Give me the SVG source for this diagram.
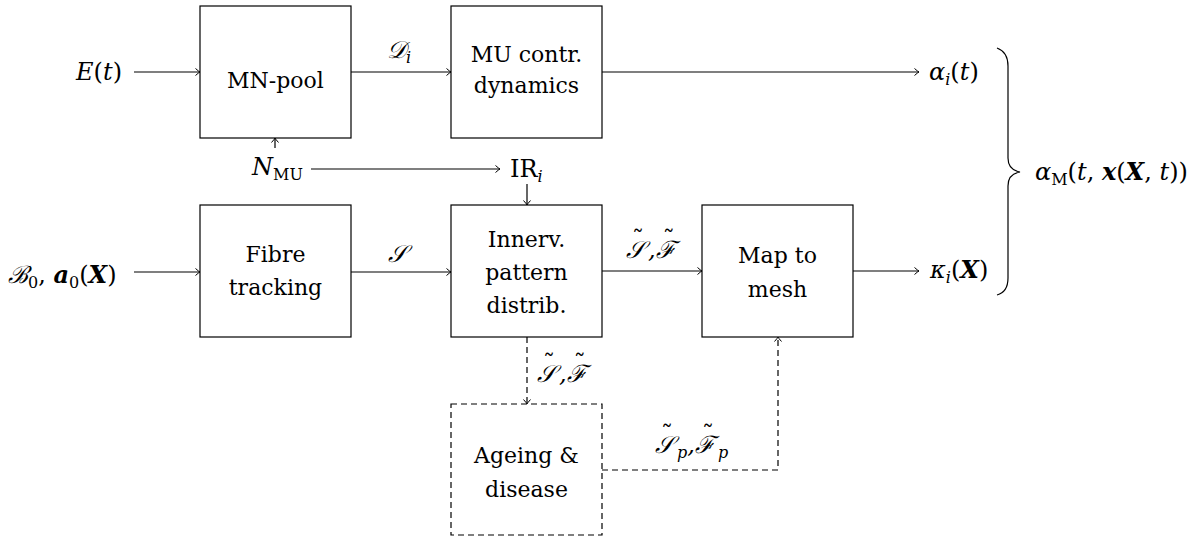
<svg xmlns="http://www.w3.org/2000/svg" width="1204" height="538" viewBox="0 0 1204 538">
<defs>
<marker id="ah" markerWidth="10" markerHeight="10" refX="8" refY="5" orient="auto" markerUnits="userSpaceOnUse">
<path d="M3.5 1.5 Q7 4.6 8 5 Q7 5.4 3.5 8.5" fill="none" stroke="#000" stroke-width="1"/>
</marker>
</defs>
<g id="connectors" fill="none" stroke="#000" stroke-width="1.2">
<line x1="134" y1="72" x2="200" y2="72" marker-end="url(#ah)"/>
<line x1="351" y1="72" x2="451" y2="72" marker-end="url(#ah)"/>
<line x1="602" y1="72" x2="919" y2="72" marker-end="url(#ah)"/>
<line x1="275" y1="148" x2="275" y2="138" marker-end="url(#ah)"/>
<line x1="311" y1="169" x2="500" y2="169" marker-end="url(#ah)"/>
<line x1="527" y1="184" x2="527" y2="205" marker-end="url(#ah)"/>
<line x1="134" y1="272" x2="200" y2="272" marker-end="url(#ah)"/>
<line x1="351" y1="272" x2="451" y2="272" marker-end="url(#ah)"/>
<line x1="602" y1="271" x2="702" y2="271" marker-end="url(#ah)"/>
<line x1="853" y1="271" x2="919" y2="271" marker-end="url(#ah)"/>
<line x1="527" y1="337" x2="527" y2="404" stroke-dasharray="6 4" marker-end="url(#ah)"/>
<polyline points="602,470 778,470 778,337" stroke-dasharray="6 4" marker-end="url(#ah)"/>
<path d="M997 48 Q1008 52 1008 66 L1008 158 Q1008 170 1020 172 Q1008 174 1008 186 L1008 278 Q1008 292 997 295"/>
</g>
<g id="labels" font-family="'DejaVu Serif', 'Liberation Serif', serif" font-size="24">
<text x="122" y="80" text-anchor="end"><tspan font-style="italic">E</tspan>(<tspan font-style="italic">t</tspan>)</text>
<text x="387" y="58"><tspan font-style="italic">𝒟</tspan><tspan font-style="italic" font-size="16" dy="5">i</tspan></text>
<text x="929" y="80"><tspan font-style="italic">α</tspan><tspan font-style="italic" font-size="16" dy="5">i</tspan><tspan dy="-5">(</tspan><tspan font-style="italic">t</tspan>)</text>
<text x="252" y="175"><tspan font-style="italic">N</tspan><tspan font-size="16" dy="5">MU</tspan></text>
<text x="510" y="177">IR<tspan font-style="italic" font-size="16" dy="5">i</tspan></text>
<text x="8" y="283"><tspan font-style="italic">ℬ</tspan><tspan font-size="16" dy="5">0</tspan><tspan dy="-5">, </tspan><tspan font-weight="bold" font-style="italic">a</tspan><tspan font-size="16" dy="5">0</tspan><tspan dy="-5">(</tspan><tspan font-weight="bold" font-style="italic">X</tspan>)</text>
<text x="388" y="262" font-style="italic">𝒮</text>
<text x="626" y="258" font-style="italic">𝒮<tspan font-style="normal" dx="-13" dy="-10">˜</tspan><tspan dx="4" dy="10">,ℱ</tspan><tspan font-style="normal" dx="-13" dy="-10">˜</tspan></text>
<text x="930" y="278"><tspan font-style="italic">κ</tspan><tspan font-style="italic" font-size="16" dy="5">i</tspan><tspan dy="-5">(</tspan><tspan font-weight="bold" font-style="italic">X</tspan>)</text>
<text x="537" y="382" font-style="italic">𝒮<tspan font-style="normal" dx="-13" dy="-10">˜</tspan><tspan dx="4" dy="10">,ℱ</tspan><tspan font-style="normal" dx="-13" dy="-10">˜</tspan></text>
<text x="655" y="453" font-style="italic">𝒮<tspan font-style="normal" dx="-13" dy="-10">˜</tspan><tspan font-size="16" dx="4" dy="15">p</tspan><tspan dy="-5">,ℱ</tspan><tspan font-style="normal" dx="-13" dy="-10">˜</tspan><tspan font-size="16" dx="4" dy="15">p</tspan></text>
<text x="1035" y="180"><tspan font-style="italic">α</tspan><tspan font-size="16" dy="5">M</tspan><tspan dy="-5">(</tspan><tspan font-style="italic">t</tspan>, <tspan font-weight="bold" font-style="italic">x</tspan>(<tspan font-weight="bold" font-style="italic">X</tspan>, <tspan font-style="italic">t</tspan>))</text>
</g>
<g id="mnpool" font-family="'DejaVu Serif', 'Liberation Serif', serif" font-size="22" text-anchor="middle">
<rect x="200" y="6" width="151" height="132" fill="#fff" stroke="#000" stroke-width="1.2"/>
<text x="275.5" y="88">MN-pool</text>
</g>
<g id="mucontr" font-family="'DejaVu Serif', 'Liberation Serif', serif" font-size="22" text-anchor="middle">
<rect x="451" y="6" width="151" height="132" fill="#fff" stroke="#000" stroke-width="1.2"/>
<text x="526.5" y="62">MU contr.</text>
<text x="526.5" y="93">dynamics</text>
</g>
<g id="fibre" font-family="'DejaVu Serif', 'Liberation Serif', serif" font-size="22" text-anchor="middle">
<rect x="200" y="205" width="151" height="132" fill="#fff" stroke="#000" stroke-width="1.2"/>
<text x="275.5" y="262">Fibre</text>
<text x="275.5" y="295">tracking</text>
</g>
<g id="innerv" font-family="'DejaVu Serif', 'Liberation Serif', serif" font-size="22" text-anchor="middle">
<rect x="451" y="205" width="151" height="132" fill="#fff" stroke="#000" stroke-width="1.2"/>
<text x="526.5" y="247">Innerv.</text>
<text x="526.5" y="280">pattern</text>
<text x="526.5" y="313">distrib.</text>
</g>
<g id="map" font-family="'DejaVu Serif', 'Liberation Serif', serif" font-size="22" text-anchor="middle">
<rect x="702" y="205" width="151" height="132" fill="#fff" stroke="#000" stroke-width="1.2"/>
<text x="777.5" y="263">Map to</text>
<text x="777.5" y="297">mesh</text>
</g>
<g id="ageing" font-family="'DejaVu Serif', 'Liberation Serif', serif" font-size="22" text-anchor="middle">
<rect x="451" y="404" width="151" height="131" fill="#fff" stroke="#000" stroke-width="1.2" stroke-dasharray="6 4"/>
<text x="526.5" y="463">Ageing &amp;</text>
<text x="526.5" y="497">disease</text>
</g>
</svg>
